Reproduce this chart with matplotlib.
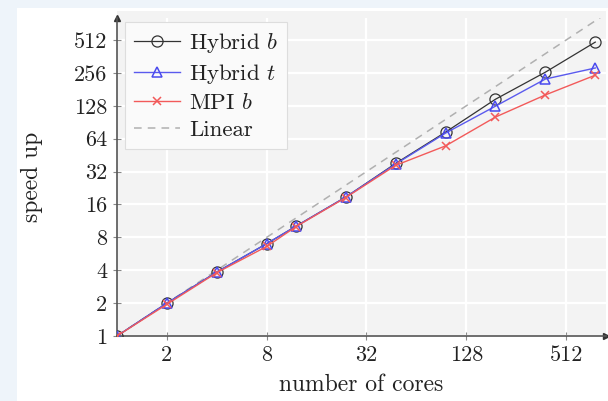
import matplotlib
matplotlib.use("Agg")
import matplotlib.pyplot as plt
from matplotlib.patches import Rectangle
from matplotlib.ticker import FixedLocator, FixedFormatter, NullLocator

plt.rcParams['font.family'] = ['cmr10', 'DejaVu Serif']
plt.rcParams['mathtext.fontset'] = 'cm'
plt.rcParams['axes.formatter.use_mathtext'] = True

cores = [1, 2, 4, 8, 12, 24, 48, 96, 192, 384, 768]
hybrid_b = [1, 2.0, 3.85, 7.0, 10.1, 18.7, 38.0, 73.5, 147, 260, 490]
hybrid_t = [1, 2.0, 3.85, 7.0, 10.1, 18.7, 37.5, 72.0, 127, 225, 284]
mpi_b = [1, 1.95, 3.8, 6.6, 10.0, 18.5, 36.5, 55.0, 101, 161, 244]
linear_x = [1, 2048]

xticks = [2, 8, 32, 128, 512]
xticklabels = ['2', '8', '32', '128', '512']
yticks = [1, 2, 4, 8, 16, 32, 64, 128, 256, 512]
yticklabels = ['1', '2', '4', '8', '16', '32', '64', '128', '256', '512']

W, H = 608, 401
fig = plt.figure(figsize=(W / 100, H / 100), dpi=100)
fig.patch.set_facecolor('#eef4fa')
fig.patches.append(Rectangle((17 / W, 0), 1 - 17 / W, 1 - 8 / H, transform=fig.transFigure,
                             facecolor='white', edgecolor='none', zorder=-2))
fig.patches.append(Rectangle((117 / W, 1 - 336 / H), (606 - 117) / W, (336 - 11) / H,
                             transform=fig.transFigure, facecolor='#f3f3f3',
                             edgecolor='none', zorder=-1))

ax = fig.add_axes([117 / W, 1 - 336 / H, (606 - 117) / W, (336 - 18) / H])
ax.set_facecolor('none')
ax.set_xscale('log', base=2)
ax.set_yscale('log', base=2)
ax.set_xlim(1, 2 ** 9.80)
ax.set_ylim(1, 2 ** 9.67)

ax.grid(True, color='white', linewidth=1.6, zorder=0)
ax.set_axisbelow(True)

ax.plot(linear_x, linear_x, color='#b0b0b0', linestyle=(0, (5, 4)), linewidth=1.1, label='Linear', zorder=2)
ax.plot(cores, hybrid_b, color='#333333', linewidth=0.9, marker='o', markersize=8,
        markerfacecolor='none', markeredgecolor='#333333', markeredgewidth=0.9,
        label='Hybrid $b$', zorder=3)
ax.plot(cores, hybrid_t, color='#5a5aee', linewidth=1.0, marker='^', markersize=7,
        markerfacecolor='none', markeredgecolor='#4a4aee', markeredgewidth=1.1,
        label='Hybrid $t$', zorder=4)
ax.plot(cores, mpi_b, color='#f25a5a', linewidth=1.0, marker='x', markersize=6,
        markeredgewidth=1.1, label='MPI $b$', zorder=5)

for s in ['top', 'right']:
    ax.spines[s].set_visible(False)
for s in ['left', 'bottom']:
    ax.spines[s].set_color('#555555')
    ax.spines[s].set_linewidth(1.2)
ax.plot([0], [1], marker='^', color='#333333', markersize=5, transform=ax.transAxes, clip_on=False)
ax.plot([1], [0], marker='>', color='#333333', markersize=5, transform=ax.transAxes, clip_on=False)

ax.xaxis.set_major_locator(FixedLocator(xticks))
ax.xaxis.set_major_formatter(FixedFormatter(xticklabels))
ax.yaxis.set_major_locator(FixedLocator(yticks))
ax.yaxis.set_major_formatter(FixedFormatter(yticklabels))
ax.xaxis.set_minor_locator(NullLocator())
ax.yaxis.set_minor_locator(NullLocator())
ax.tick_params(direction='inout', length=6, width=0.8, color='#888888',
               labelsize=16, labelcolor='#222222', pad=4)

ax.set_xlabel('number of cores', fontsize=17, color='#222222', labelpad=6)
ax.set_ylabel('speed up', fontsize=17, color='#222222', labelpad=22)

handles, labels = ax.get_legend_handles_labels()
order = [1, 2, 3, 0]
leg = ax.legend([handles[i] for i in order], [labels[i] for i in order],
                loc='upper left', bbox_to_anchor=(0.016, 0.987), borderaxespad=0,
                fontsize=16.5, frameon=True, fancybox=False, facecolor='#fafafa',
                edgecolor='#dddddd', framealpha=1, handlelength=2.0, handletextpad=0.4,
                labelspacing=0.3, borderpad=0.4)
leg.get_frame().set_linewidth(0.8)
for t in leg.get_texts():
    t.set_color('#222222')

fig.savefig('out.png', dpi=100, facecolor=fig.get_facecolor())
